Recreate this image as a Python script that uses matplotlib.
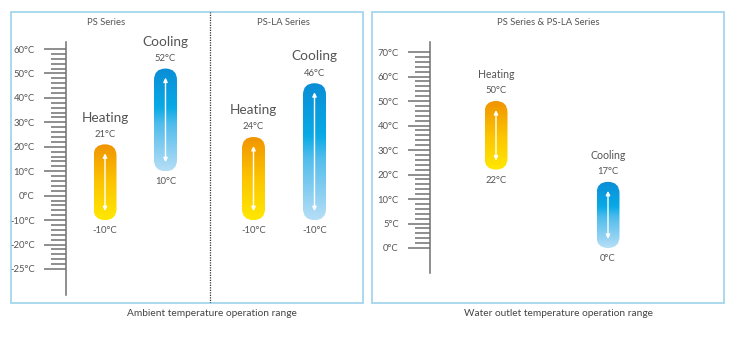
import numpy as np
import matplotlib
matplotlib.use("Agg")
import matplotlib.pyplot as plt
from matplotlib.colors import LinearSegmentedColormap
from matplotlib.patches import FancyBboxPatch, Rectangle
from matplotlib.ticker import FixedLocator

plt.rcParams['font.family'] = ['Lato', 'DejaVu Sans']

# scale labels (not evenly spaced in value, evenly spaced on the ruler)
amb_ticks = [-25, -20, -10, 0, 10, 20, 30, 40, 50, 60]
water_ticks = [0, 5, 10, 20, 30, 40, 50, 60, 70]

# operating ranges (low, high)
ps_heat = (-10, 21)
ps_cool = (10, 52)
psla_heat = (-10, 24)
psla_cool = (-10, 46)
water_heat = (22, 50)
water_cool = (0, 17)

heat_cmap = LinearSegmentedColormap.from_list(
    'heat', [(0, '#ffe800'), (0.5, '#fcc400'), (1, '#f09400')])
cool_cmap = LinearSegmentedColormap.from_list(
    'cool', [(0, '#b6def6'), (0.45, '#52bdec'), (0.62, '#08aae6'), (1, '#0b8dd6')])

BOX = '#a5d6ee'
TXT = '#555555'
PX = 24.45  # pixels per ruler step

fig = plt.figure(figsize=(7.5, 3.45), dpi=100)


def ruler(ax, ticks, lo, hi, x):
    n = len(ticks)
    ax.spines[['top', 'right', 'bottom']].set_visible(False)
    ax.spines['left'].set_position(('data', x))
    ax.spines['left'].set_bounds(lo, hi)
    ax.spines['left'].set_color('#707070')
    ax.spines['left'].set_linewidth(1.1)
    ax.set_yticks(range(n), [f'{t}°C' for t in ticks])
    minor = [i + k * 0.2 for i in range(n - 1) for k in range(1, 5)]
    ax.yaxis.set_minor_locator(FixedLocator(minor))
    ax.tick_params(axis='y', which='major', direction='out', length=15.5,
                   width=1.1, color='#707070', pad=7, labelsize=6.8,
                   labelcolor=TXT)
    ax.tick_params(axis='y', which='minor', direction='out', length=10.5,
                   width=1.1, color='#707070')
    ax.set_xticks([])
    ax.patch.set_visible(False)
    ax.add_patch(Rectangle((0, 0), 1, 1, transform=ax.transAxes, fill=False,
                           edgecolor=BOX, lw=1.3, clip_on=False))


def capsule(ax, ticks, rng, xc, cmap, name, name_size):
    idx = np.arange(len(ticks))
    y0, y1 = np.interp(rng, ticks, idx)
    w = 11.5
    box = FancyBboxPatch((xc - w, y0), 2 * w, y1 - y0,
                         boxstyle=f'round,pad=0,rounding_size={w}',
                         mutation_aspect=1 / PX, fc='none', ec='none')
    ax.add_patch(box)
    grad = np.linspace(0, 1, 256).reshape(-1, 1)
    im = ax.imshow(grad, cmap=cmap, origin='lower', aspect='auto',
                   extent=(xc - w, xc + w, y0, y1), interpolation='bilinear')
    im.set_clip_path(box)
    inset = 9 / PX
    ax.annotate('', xy=(xc, y1 - inset), xytext=(xc, y0 + inset),
                arrowprops=dict(arrowstyle='<|-|>', color='white', lw=1.0,
                                mutation_scale=6, shrinkA=0, shrinkB=0))
    ax.annotate(f'{rng[1]}°C', (xc, y1), xytext=(0, 7.3),
                textcoords='offset points', ha='center', va='center',
                fontsize=6.8, color=TXT)
    ax.annotate(f'{rng[0]}°C', (xc, y0), xytext=(0, -7.6),
                textcoords='offset points', ha='center', va='center',
                fontsize=6.8, color=TXT)
    ax.annotate(name, (xc, y1), xytext=(0, 19.3),
                textcoords='offset points', ha='center', va='center',
                fontsize=name_size, color=TXT)


# ambient panel
axl = fig.add_axes([11 / 750, 1 - 303 / 345, 352 / 750, 291 / 345])
ruler(axl, amb_ticks, -1.064, 9.286, 55)
capsule(axl, amb_ticks, ps_heat, 94, heat_cmap, 'Heating', 9.8)
capsule(axl, amb_ticks, ps_cool, 154.5, cool_cmap, 'Cooling', 9.8)
capsule(axl, amb_ticks, psla_heat, 242.5, heat_cmap, 'Heating', 9.8)
capsule(axl, amb_ticks, psla_cool, 303.5, cool_cmap, 'Cooling', 9.8)
axl.axvline(199, color='#333333', ls=(0, (1, 1)), lw=0.9)
axl.set_xlim(0, 352)
axl.set_ylim(-1.391, 10.514)
axl.text(95, 10.07, 'PS Series', ha='center', va='center', fontsize=6.8, color=TXT)
axl.text(272, 10.07, 'PS-LA Series', ha='center', va='center', fontsize=6.8, color=TXT)
axl.text(0.571, -0.035, 'Ambient temperature operation range', transform=axl.transAxes,
         ha='center', va='center', fontsize=7.3, color='#444444')

# water outlet panel
axr = fig.add_axes([372 / 750, 1 - 303 / 345, 352 / 750, 291 / 345])
ruler(axr, water_ticks, -1.02, 8.408, 58)
capsule(axr, water_ticks, water_heat, 124, heat_cmap, 'Heating', 7.6)
capsule(axr, water_ticks, water_cool, 236, cool_cmap, 'Cooling', 7.6)
axr.set_xlim(0, 352)
axr.set_ylim(-2.245, 9.633)
axr.text(176, 9.2, 'PS Series & PS-LA Series', ha='center', va='center',
         fontsize=6.8, color=TXT)
axr.text(0.531, -0.035, 'Water outlet temperature operation range',
         transform=axr.transAxes, ha='center', va='center', fontsize=7.3,
         color='#444444')

fig.savefig('out.png', dpi=100)
